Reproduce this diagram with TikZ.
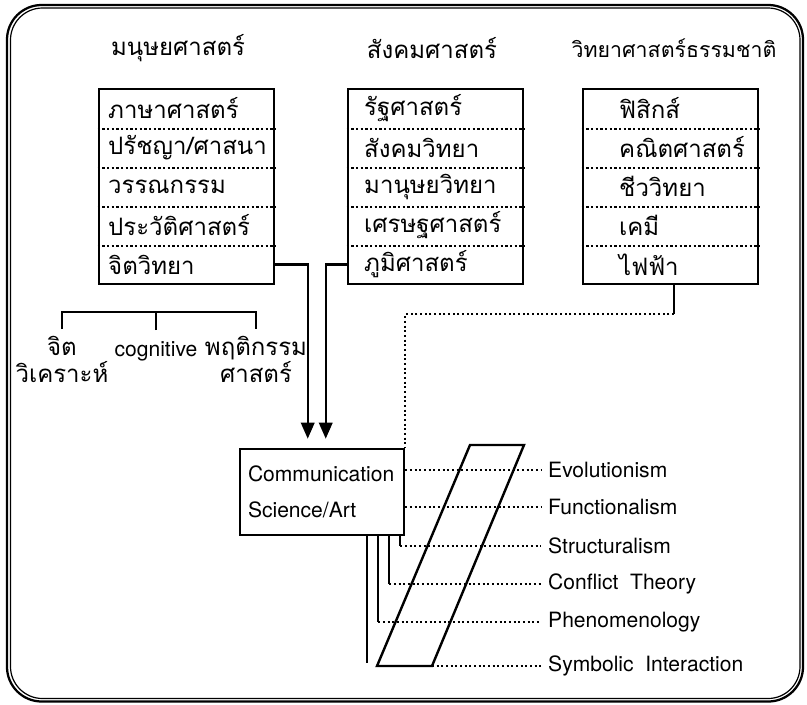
\documentclass[tikz,border=0pt]{standalone}
\usepackage{fontspec}
\setmainfont{TeX Gyre Heros}
\newfontfamily\thaifont[Script=Thai]{Loma}
\usetikzlibrary{arrows.meta}

\begin{document}
\begin{tikzpicture}[x=0.75pt,y=-0.75pt,line width=1.8pt,font=\fontsize{15.8}{18}\selectfont,
        field box/.style={draw,line width=1.9pt,minimum width=131.25pt,minimum height=146.25pt,inner sep=0pt},
        row node/.style={anchor=west,minimum height=29.25pt,inner sep=0pt,font=\thaifont\fontsize{18}{20}\selectfont},
        head node/.style={font=\thaifont\fontsize{18}{20}\selectfont},
        branch node/.style={anchor=north,align=center,inner sep=0pt,font=\thaifont\fontsize{18}{20}\selectfont},
        comm box/.style={draw,line width=1.9pt,minimum height=64.5pt,text width=111pt,align=left,inner xsep=6pt},
        theory node/.style={anchor=west,inner xsep=4.5pt},
        dot line/.style={line width=1.6pt,dash pattern=on 1.6pt off 1.9pt},
        arrow line/.style={-{Triangle[length=12pt,width=10pt]},shorten >=6.75pt}]
        \useasboundingbox (0,0) rectangle (807,704);

        % frame
        \draw[line width=1.7pt,rounded corners=26pt] (7,5) rectangle (803,701.5);
        \draw[line width=0.9pt,rounded corners=24pt] (10.5,8) rectangle (800,698.5);

        % headings
        \node[head node] at (178,48) (hum) {มนุษยศาสตร์};
        \node[head node] at (432,48) (soc) {สังคมศาสตร์};
        \node[head node,font=\thaifont\fontsize{16}{20}\selectfont] at (674,48) (nat) {วิทยาศาสตร์ธรรมชาติ};

        % humanities
        \node[field box] at (186.5,186.5) (hbox) {};
        \node[row node] at (107,108.5) (h1) {ภาษาศาสตร์};
        \node[row node] at (107,147.5) (h2) {ปรัชญา/ศาสนา};
        \node[row node] at (107,186.5) (h3) {วรรณกรรม};
        \node[row node] at (107,225.5) (h4) {ประวัติศาสตร์};
        \node[row node] at (107,264.5) (h5) {จิตวิทยา};

        % social sciences
        \node[field box] at (435.5,186.5) (sbox) {};
        \node[row node] at (363,108.5) (s1) {รัฐศาสตร์};
        \node[row node] at (363,147.5) (s2) {สังคมวิทยา};
        \node[row node] at (363,186.5) (s3) {มานุษยวิทยา};
        \node[row node] at (363,225.5) (s4) {เศรษฐศาสตร์};
        \node[row node] at (363,264.5) (s5) {ภูมิศาสตร์};

        % natural sciences
        \node[field box] at (670.5,186.5) (nbox) {};
        \node[row node] at (618,108.5) (n1) {ฟิสิกส์};
        \node[row node] at (618,147.5) (n2) {คณิตศาสตร์};
        \node[row node] at (618,186.5) (n3) {ชีววิทยา};
        \node[row node] at (618,225.5) (n4) {เคมี};
        \node[row node] at (618,264.5) (n5) {ไฟฟ้า};

        \path[dot line]
            (h1.south -| hbox.west) edge (h1.south -| hbox.east)
            (h2.south -| hbox.west) edge (h2.south -| hbox.east)
            (h3.south -| hbox.west) edge (h3.south -| hbox.east)
            (h4.south -| hbox.west) edge (h4.south -| hbox.east)
            (s1.south -| sbox.west) edge (s1.south -| sbox.east)
            (s2.south -| sbox.west) edge (s2.south -| sbox.east)
            (s3.south -| sbox.west) edge (s3.south -| sbox.east)
            (s4.south -| sbox.west) edge (s4.south -| sbox.east)
            (n1.south -| nbox.west) edge (n1.south -| nbox.east)
            (n2.south -| nbox.west) edge (n2.south -| nbox.east)
            (n3.south -| nbox.west) edge (n3.south -| nbox.east)
            (n4.south -| nbox.west) edge (n4.south -| nbox.east)
            ;

        % branches of psychology
        \node[branch node] at (62,335) (t1) {จิต\\วิเคราะห์};
        \node[branch node,font=\fontsize{15.8}{18}\selectfont] at (156,340) (t2) {cognitive};
        \node[branch node] at (256,335) (t3) {พฤติกรรม\\ศาสตร์};
        \draw ([yshift=4.5pt]t1.north) |- ([yshift=21pt]t2.north) -| ([yshift=4.5pt]t3.north);
        \draw ([yshift=7.5pt]t2.north) -- ([yshift=21pt]t2.north);

        % communication
        \node[comm box] at (322,492) (comm) {Communication\\[9pt]Science/Art};
        \draw[arrow line] (hbox.east |- h5.west) -| ([xshift=51.75pt]comm.north west);
        \draw[arrow line] (sbox.west |- s5.west) -| ([xshift=65.25pt]comm.north west);
        \draw ([xshift=2.6pt]nbox.south) -- ++(0,29) coordinate (nk);
        \draw[dot line] (nk) -| (comm.north east);

        % theories
        \node[theory node] at (541,470) (e1) {Evolutionism};
        \node[theory node] at (541,507) (e2) {Functionalism};
        \node[theory node] at (541,546) (e3) {Structuralism};
        \node[theory node] at (541,584) (e4) {Conflict\ \ Theory};
        \node[theory node] at (541,622) (e5) {Phenomenology};
        \node[theory node] at (541,666) (e6) {Symbolic\ \ Interaction};

        \coordinate (p1) at (470,445);
        \coordinate (p2) at (524,445);
        \coordinate (p3) at (432,666);
        \coordinate (p4) at (377,666);

        \coordinate (k3) at ([xshift=-3.75pt]comm.south east);
        \coordinate (k4) at ([xshift=-12pt]comm.south east);
        \coordinate (k5) at ([xshift=-20.25pt]comm.south east);
        \coordinate (k6) at ([xshift=-28.5pt]comm.south east);
        \draw (k3) -- (k3 |- e3.west);
        \draw (k4) -- (k4 |- e4.west);
        \draw (k5) -- (k5 |- e5.west);
        \draw[shorten >=2pt] (k6) -- (k6 |- p4);

        \path[dot line]
            (comm.east |- e1.west) edge (e1.west)
            (comm.east |- e2.west) edge (e2.west)
            (k3 |- e3.west) edge (e3.west)
            (k4 |- e4.west) edge (e4.west)
            (k5 |- e5.west) edge (e5.west)
            (p3) edge (e6.west)
            ;

        \draw[line width=1.8pt] (p1) -- (p2) -- (p3) -- (p4) -- cycle;
    \end{tikzpicture}
\end{document}
